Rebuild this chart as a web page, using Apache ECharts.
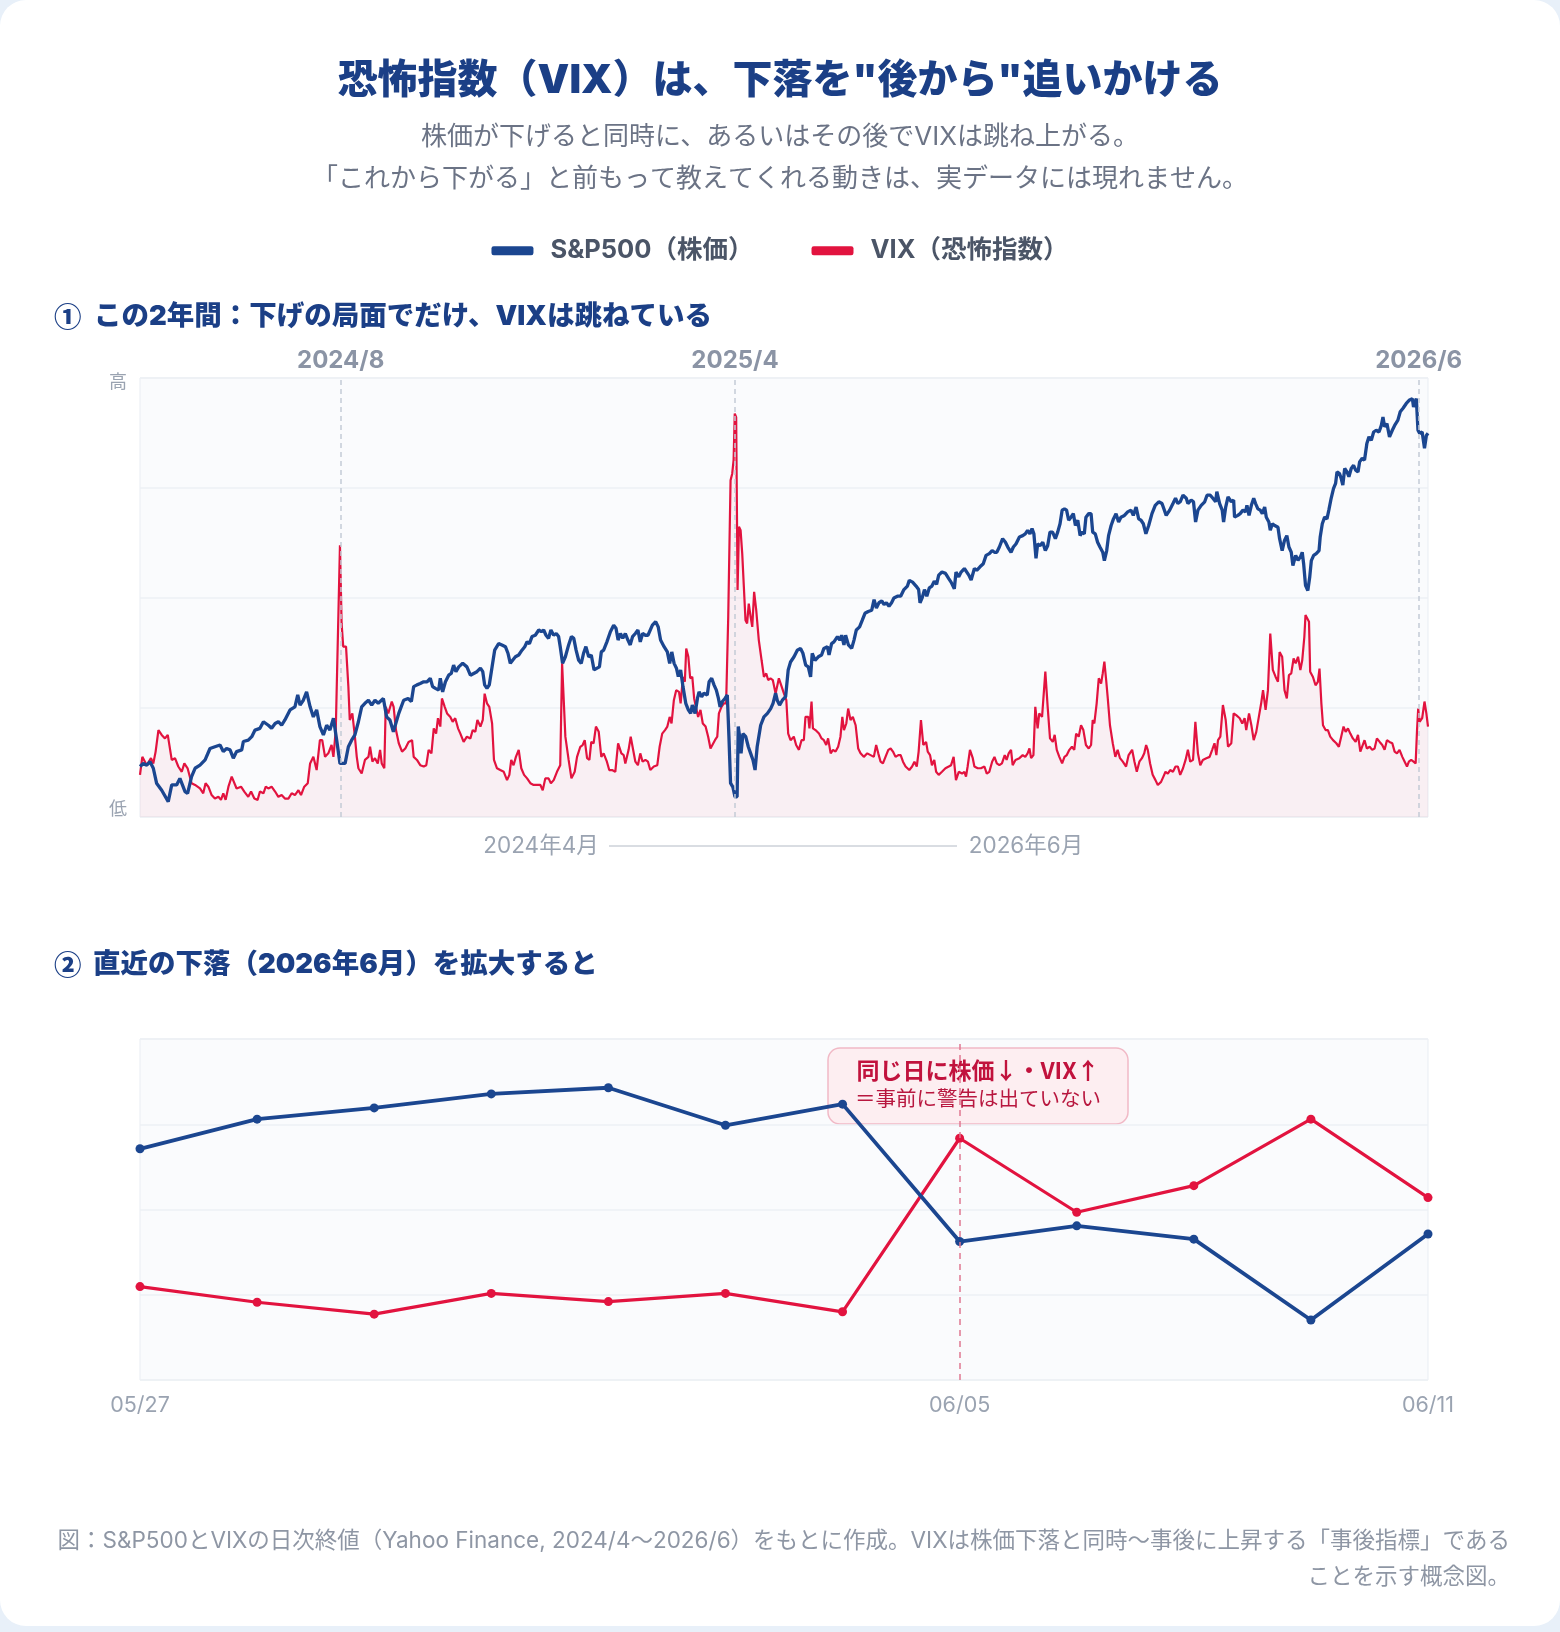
<!DOCTYPE html>
<html>
<head>
<meta charset="utf-8">
<script src="https://cdn.jsdelivr.net/npm/echarts@6/dist/echarts.min.js"></script>
<style>
  html, body { margin: 0; padding: 0; background: #e8f0f9; }
  #card { position: absolute; left: 0; top: 0; width: 1560px; height: 1626px; background: #fff; border-radius: 26px; }
  #main { position: absolute; left: 0; top: 0; width: 1560px; height: 1632px; }
</style>
</head>
<body>
<div id="card"></div>
<div id="main"></div>
<script>
const SPX = "S&P500（株価）";
const VIX = "VIX（恐怖指数）";
const BLUE = "#1b4690";
const RED = "#e2133f";
const FONT = 'Inter, "Noto Sans CJK JP", sans-serif';
const JP = '"Noto Sans CJK JP", sans-serif';

// ① 2年間の日次（x = 2024/4 からの営業日, y = 相対水準 0-100）
const spxPoints = [
  [0,11.5],[1.4,12.2],[2.9,11.8],[4.3,12.6],[5.7,11.1],[7.1,7.7],[9.3,6.1],[12.1,3.5],[13.6,7.3],[15.7,7.3],[17.1,8.8],[19.3,5.8],[20.4,5.4],[22.1,9.2],[23.6,11.1],[25.7,11.8],[27.9,13.0],[30.0,15.6],[32.1,16.0],[34.3,16.4],[35.7,14.9],[37.1,15.6],[38.6,15.3],[40.0,13.4],[41.4,14.9],[43.6,15.3],[44.3,17.2],[46.4,17.5],[47.9,18.3],[49.3,19.8],[51.4,20.2],[52.9,21.7],[55.0,20.9],[56.4,20.2],[57.9,21.3],[59.3,21.7],[60.7,20.9],[62.1,22.1],[64.3,24.4],[66.4,25.1],[67.6,27.8],[68.6,25.5],[70.0,26.6],[71.4,28.5],[72.9,25.1],[74.3,22.8],[75.7,24.4],[77.1,20.6],[78.6,18.7],[80.0,20.9],[81.4,19.8],[82.9,22.5],[84.3,17.5],[85.7,12.2],[86.4,12.6],[87.9,12.2],[89.3,16.0],[90.7,17.5],[92.1,18.7],[93.6,21.7],[95.0,25.1],[96.4,25.9],[97.9,26.6],[99.3,25.5],[100.7,26.6],[102.1,25.9],[104.3,27.0],[105.7,22.8],[107.1,22.1],[108.6,19.4],
  [110.9,23.6],[113.0,26.6],[114.9,27.0],[116.3,26.3],[117.3,29.7],[118.7,30.1],[120.1,30.4],[121.6,30.8],[123.0,30.8],[124.4,31.6],[125.4,29.7],[126.6,29.3],[128.0,28.9],[128.7,31.6],[129.7,28.5],[130.9,30.8],[132.3,32.3],[133.4,32.7],[134.4,34.6],[135.4,33.1],[136.6,34.2],[138.3,35.0],[140.1,34.2],[141.6,32.3],[143.0,32.7],[144.4,33.1],[145.9,33.9],[146.9,33.1],[147.7,30.1],[148.7,29.3],[149.7,30.1],[150.9,34.2],[152.0,38.0],[153.7,39.5],[155.1,39.2],[156.6,38.8],[157.7,37.3],[158.7,35.0],[159.7,35.7],[160.9,36.5],[162.3,36.9],[163.7,38.0],[164.9,38.8],[165.9,39.9],[166.9,39.5],[168.0,41.1],[169.4,41.4],[170.9,42.6],[172.0,42.2],[173.0,42.6],[174.0,41.4],[175.1,40.7],[176.1,42.6],[177.3,41.4],[178.4,41.8],[179.4,41.1],[180.1,38.8],[181.1,35.0],[182.3,36.5],[183.7,39.2],[184.9,41.1],[185.9,40.7],[186.9,38.0],[188.0,35.7],[189.1,35.0],[190.1,37.3],[191.1,38.8],[192.3,36.5],[193.4,36.9],[194.6,33.5],[195.9,33.9],[196.9,34.2],[197.7,37.6],[198.7,38.0],[200.1,39.9],[201.6,42.2],[203.0,43.7],[204.0,43.0],[204.9,40.3],[205.9,41.8],[206.9,40.7],[208.0,41.8],[209.1,40.3],[210.1,39.2],[211.1,41.1],[212.3,41.8],[213.4,42.6],[214.4,39.9],[215.4,41.8],[216.6,41.4],[217.7,41.4],
  [219.6,43.7],[221.0,44.5],[222.1,43.3],[223.1,40.3],[224.6,38.8],[226.0,37.6],[227.0,35.0],[227.9,37.6],[228.9,35.0],[229.9,33.9],[230.7,32.0],[231.7,33.5],[232.7,29.7],[233.9,25.9],[235.0,24.4],[236.0,23.6],[236.7,25.5],[237.9,23.6],[238.9,27.0],[239.6,28.5],[240.7,27.4],[241.7,28.2],[243.1,27.8],[243.9,30.8],[245.0,31.6],[246.0,30.1],[247.0,28.9],[247.9,27.0],[248.6,25.1],[249.6,26.3],[250.7,27.0],[251.7,27.8],[252.4,18.3],[253.1,7.7],[254.1,6.8],[255.0,4.6],[255.9,4.6],[256.4,20.6],[257.0,18.3],[257.6,14.5],[258.4,19.0],[259.6,18.3],[260.7,16.0],[261.7,14.5],[262.7,13.0],[263.6,10.7],[264.5,16.0],[266.0,20.9],[267.4,22.8],[268.9,23.6],[270.3,24.7],[271.3,25.9],[272.4,28.2],[273.1,26.6],[274.1,25.5],[275.3,26.6],[276.7,27.4],[277.8,33.5],[278.8,35.3],[280.3,36.5],[281.7,38.0],[283.1,38.4],[284.1,37.3],[285.3,34.6],[286.4,34.2],[287.4,31.9],[288.1,37.3],[289.3,35.7],[290.7,36.5],[292.1,36.9],[293.1,38.4],[294.6,38.8],[295.3,36.9],[296.4,39.5],[297.4,39.9],[298.9,41.1],[299.9,40.3],[300.7,41.4],[301.7,39.2],[302.4,41.4],[303.6,39.2],[305.0,38.4],[306.0,40.3],[307.0,42.6],[308.4,43.3],[309.6,44.9],[310.7,46.4],[312.1,46.8],[313.6,47.1],[314.6,49.5],[315.6,47.6],[316.7,48.8],[317.9,49.2],[318.9,48.4],[319.9,48.8],[321.0,48.0],[322.1,48.8],[323.1,49.9],[324.6,50.3],[326.0,50.3],[327.4,51.8],[328.9,52.6],
  [329.7,53.9],[331.1,53.5],[332.6,52.6],[333.7,51.8],[334.3,48.8],[335.2,49.9],[336.2,51.8],[337.2,50.3],[338.3,52.2],[339.4,52.6],[340.4,53.7],[341.4,53.0],[342.3,55.1],[343.7,55.8],[345.2,55.5],[346.6,54.3],[347.6,53.5],[349.0,52.0],[349.7,55.8],[350.9,54.7],[351.9,55.8],[353.3,56.6],[354.0,57.0],[355.2,55.1],[356.2,54.0],[357.6,56.6],[358.6,56.2],[360.0,57.0],[361.4,57.7],[362.6,59.6],[364.0,60.0],[365.2,60.7],[366.2,60.3],[367.2,60.3],[368.3,61.5],[369.7,63.4],[370.9,62.6],[371.9,61.5],[373.3,60.3],[374.3,61.5],[375.4,62.2],[376.9,63.8],[378.3,64.1],[379.4,64.5],[380.4,65.3],[381.4,64.5],[382.3,65.7],[383.1,64.5],[384.0,58.9],[384.7,62.2],[385.7,61.8],[386.9,62.6],[388.0,60.7],[389.0,61.8],[390.0,64.9],[391.1,64.9],[392.3,63.4],[393.3,64.9],[394.3,66.8],[395.2,69.9],[396.2,70.2],[397.1,69.9],[398.0,67.6],[399.0,68.3],[400.0,69.1],[400.9,66.4],[401.9,67.6],[402.9,64.1],[403.7,64.9],[404.7,64.5],[405.4,68.3],[406.6,69.1],[407.6,69.1],[408.3,64.9],[409.4,64.5],[410.4,62.6],[411.4,61.5],[412.6,60.3],[413.3,58.4],[414.3,60.7],[415.1,64.1],[416.2,66.4],[417.2,67.9],[418.3,69.1],[419.4,67.2],[420.4,68.3],[421.9,68.7],[423.3,69.5],[424.7,69.9],[425.7,68.7],[426.9,70.6],[428.0,67.9],[429.0,67.6],[430.0,66.8],[431.1,64.5],[432.3,66.4],[433.7,69.1],[435.1,71.0],[436.6,71.8],[438.0,71.4],
  [439.8,68.7],[441.3,69.9],[442.7,71.4],[443.8,72.6],[444.8,71.4],[445.8,71.8],[447.0,73.3],[448.4,72.6],[449.1,71.4],[450.5,72.2],[451.5,71.8],[452.4,67.2],[453.4,69.9],[454.8,71.0],[456.3,71.8],[457.3,73.3],[458.7,73.3],[459.8,72.6],[461.0,71.8],[461.5,74.1],[462.7,71.4],[463.8,69.9],[464.4,67.2],[465.3,70.6],[466.3,72.9],[467.7,71.8],[468.7,72.2],[469.1,68.3],[470.5,68.7],[471.5,69.1],[472.7,69.9],[473.8,69.5],[474.4,71.0],[475.3,68.7],[476.3,71.0],[477.3,72.6],[478.1,71.4],[479.1,70.2],[480.1,69.9],[481.0,69.1],[482.0,70.6],[482.7,68.3],[483.8,67.2],[484.4,65.3],[485.3,66.8],[486.3,66.4],[487.7,66.0],[488.4,63.4],[489.5,60.7],[490.5,63.0],[491.5,64.1],[492.4,61.5],[493.4,60.3],[494.1,57.3],[495.3,59.6],[496.3,58.5],[497.3,59.2],[498.1,60.3],[498.7,57.7],[499.5,52.8],[500.5,51.6],[501.3,54.6],[502.0,58.4],[503.0,59.6],[504.1,60.0],[505.3,60.7],[505.8,63.8],[506.7,66.8],[507.7,68.3],[508.7,67.9],[509.5,69.9],[510.5,72.6],[511.5,74.8],[512.4,76.0],[513.0,78.6],[514.1,78.2],[514.8,77.1],[515.5,75.6],[516.3,79.4],[517.3,78.6],[518.1,77.5],[519.1,79.4],[520.1,80.1],[521.0,79.0],[522.0,78.6],[522.7,80.9],[523.8,81.7],[524.8,81.3],[525.8,85.1],[526.7,86.6],[527.7,85.8],[528.7,87.7],[529.8,88.1],[531.0,87.7],[532.0,89.2],[532.7,91.1],[533.4,88.9],[534.4,89.6],[535.5,86.6],[536.7,88.1],[537.7,89.2],[539.1,90.4],[540.1,92.3],[541.3,93.1],[542.7,94.2],[544.1,95.0],[545.3,95.3],[545.8,93.4],[547.0,95.3],[547.7,88.1],[548.4,87.4],[549.5,87.7],[550.5,84.0],[551.3,86.9],[552.0,87.4]
];

const vixPoints = [
  [0,9.6],[1.0,13.7],[2.9,11.8],[4.7,13.4],[5.7,12.2],[6.7,14.9],[7.9,19.8],[9.3,18.7],[10.7,17.9],[11.9,18.7],[13.6,13.0],[15.0,13.4],[16.4,11.5],[17.9,10.3],[19.0,12.2],[20.4,11.1],[22.1,7.7],[23.6,7.3],[25.7,6.5],[27.1,5.4],[28.1,7.7],[29.3,6.9],[30.7,5.0],[32.1,4.2],[33.6,4.6],[34.7,3.9],[35.7,5.4],[36.7,3.9],[37.9,6.9],[39.3,9.2],[40.0,9.6],[41.4,6.5],[43.3,6.9],[44.7,5.8],[46.4,4.6],[47.6,5.8],[49.0,4.2],[50.4,3.9],[51.4,5.8],[52.9,5.4],[53.9,6.9],[55.0,6.5],[56.4,6.9],[57.9,5.8],[59.3,4.6],[60.7,5.0],[62.1,4.2],[63.6,4.2],[65.0,5.4],[66.4,5.0],[67.9,6.1],[69.0,5.0],[70.4,6.9],[71.9,7.7],[72.9,12.2],[74.3,13.7],[75.7,10.7],[77.1,17.5],[78.1,17.5],[79.3,13.7],[80.7,14.5],[82.1,16.4],[82.9,13.7],[83.9,19.8],[85.7,61.9],[86.4,44.1],[87.1,38.8],[88.3,38.8],[89.3,29.7],[89.9,22.1],[91.0,23.6],[92.1,18.3],[92.9,13.7],[93.6,11.1],[95.0,9.9],[96.4,13.0],[97.9,13.7],[98.6,16.0],[99.6,12.6],[100.7,13.4],[101.9,12.2],[102.9,15.3],[103.6,12.2],[104.7,11.1],[105.3,25.1],[106.4,23.6],[107.9,26.3],
  [108.7,25.1],[109.7,19.8],[110.9,16.8],[112.3,14.9],[113.7,15.6],[115.1,17.1],[116.6,17.5],[117.3,13.7],[118.7,13.0],[120.1,11.8],[121.6,11.5],[122.7,11.8],[123.7,15.3],[124.9,14.5],[125.9,20.2],[126.9,19.0],[127.7,22.5],[128.7,20.6],[129.4,27.0],[130.6,25.1],[131.6,23.6],[133.0,22.8],[134.0,21.7],[135.1,22.5],[136.3,20.2],[137.3,19.0],[138.7,17.1],[140.1,18.3],[141.6,17.9],[142.6,19.8],[143.7,19.4],[144.6,22.1],[145.9,20.6],[146.9,22.1],[147.7,28.1],[148.7,25.9],[149.7,25.1],[150.9,21.3],[151.7,13.0],[153.0,11.1],[154.4,10.7],[155.9,10.3],[157.3,8.4],[158.3,9.6],[159.1,13.0],[160.1,11.8],[161.1,13.7],[162.3,15.3],[163.4,11.1],[164.6,9.6],[165.9,8.8],[167.3,7.7],[168.7,7.3],[170.1,7.3],[171.6,7.3],[172.6,6.1],[173.7,8.8],[175.1,8.8],[176.1,7.7],[177.3,8.4],[178.7,10.3],[180.1,11.8],[180.9,35.0],[181.6,35.0],[182.3,18.3],[183.7,13.0],[184.9,8.8],[186.3,10.3],[187.3,13.7],[188.7,16.0],[189.7,16.4],[190.6,17.5],[191.6,13.4],[192.6,13.0],[193.4,17.1],[194.4,16.8],[195.4,20.6],[196.6,19.4],[197.7,13.7],[198.7,14.5],[200.1,12.6],[201.1,10.7],[202.3,10.7],[203.7,10.3],[204.9,16.8],[206.3,14.5],[207.3,14.1],[208.0,12.2],[209.4,15.3],[210.3,18.3],[211.1,16.0],[212.3,12.6],[213.4,11.8],[214.4,14.5],[215.4,12.6],[216.6,13.0],[217.7,12.6],[218.7,10.7],
  [219.2,10.3],[220.2,11.5],[221.7,11.8],[222.7,16.0],[223.8,19.0],[225.0,19.8],[226.0,20.6],[227.0,22.8],[227.8,21.3],[228.8,26.6],[229.8,28.9],[231.0,28.5],[231.7,25.9],[232.7,31.9],[233.5,30.8],[234.1,38.4],[235.0,36.5],[235.8,31.6],[236.7,31.9],[237.5,27.0],[238.4,24.7],[239.2,22.8],[240.2,24.4],[241.2,21.3],[242.4,20.6],[243.5,18.3],[244.5,15.6],[245.2,15.3],[246.4,17.5],[247.4,18.3],[248.1,23.6],[249.2,25.1],[250.2,25.9],[251.2,25.9],[252.1,45.6],[253.1,76.7],[253.8,78.2],[254.4,81.3],[254.9,91.9],[255.5,91.1],[256.1,51.7],[256.7,66.1],[257.4,65.3],[258.1,60.0],[258.8,52.4],[259.5,44.8],[260.2,44.1],[260.9,48.6],[261.7,45.6],[262.4,43.3],[263.2,51.3],[264.1,47.1],[265.2,40.3],[266.4,35.7],[267.4,31.9],[268.4,32.7],[269.2,31.2],[270.2,31.6],[271.2,31.2],[272.4,28.1],[273.8,31.6],[275.0,29.7],[276.0,28.1],[277.0,26.6],[277.8,19.0],[278.8,17.5],[280.2,18.3],[281.2,16.4],[282.4,15.3],[283.5,17.5],[284.5,17.5],[285.2,22.8],[286.4,22.8],[286.9,20.2],[287.8,26.3],[288.4,20.2],[289.5,19.8],[291.0,19.0],[292.1,17.9],[293.1,17.5],[294.1,16.4],[294.9,17.9],[296.0,14.5],[297.0,15.3],[298.1,14.9],[299.2,16.0],[300.2,18.3],[301.0,22.8],[301.7,19.8],[302.7,21.3],[303.5,24.7],[304.5,22.1],[305.5,22.8],[306.7,20.9],[307.8,15.6],[308.8,14.5],[310.2,13.7],[311.7,14.5],[313.1,14.1],[314.5,13.7],[315.5,16.4],[316.4,14.5],[317.4,12.6],[318.4,12.2],[319.5,13.7],[320.7,15.3],[321.7,15.6],[322.7,14.9],[323.8,13.7],[325.0,14.1],[326.0,14.1],[327.0,12.6],[328.1,11.5],
  [329.7,10.7],[330.9,11.5],[331.9,12.6],[332.9,11.5],[333.7,14.9],[334.7,22.1],[335.7,16.4],[336.9,17.1],[337.6,14.9],[338.6,14.1],[339.4,11.8],[340.4,13.0],[341.2,10.3],[342.3,9.6],[343.7,10.3],[345.2,11.1],[346.6,11.5],[347.6,11.8],[348.7,13.7],[349.7,8.4],[350.9,10.3],[352.3,9.9],[353.3,10.3],[354.0,9.2],[354.7,11.5],[355.7,15.3],[356.9,13.4],[357.6,11.5],[359.0,11.1],[360.4,11.1],[361.9,11.5],[362.9,9.9],[364.0,10.3],[365.2,12.6],[366.2,13.7],[367.2,12.2],[368.3,11.8],[369.4,12.2],[370.6,14.1],[371.4,13.0],[372.3,14.5],[373.3,15.3],[374.0,11.8],[375.2,13.0],[376.9,13.4],[378.3,14.1],[379.4,13.7],[380.4,14.5],[381.2,15.6],[381.9,13.4],[382.9,14.1],[383.7,25.1],[384.7,20.2],[385.4,23.6],[386.6,22.8],[387.2,23.2],[388.0,33.1],[389.0,25.1],[390.0,17.9],[391.2,17.1],[392.0,18.7],[392.9,15.3],[394.0,13.7],[395.2,12.2],[396.2,13.7],[397.2,14.1],[398.3,15.3],[399.4,16.0],[400.4,15.3],[401.2,19.0],[402.3,18.3],[403.3,20.9],[404.3,19.8],[405.4,16.4],[406.6,15.6],[407.6,16.4],[408.3,22.1],[409.0,21.3],[410.0,25.9],[410.9,31.6],[411.9,30.4],[412.6,32.7],[413.3,35.4],[414.0,31.6],[414.7,27.4],[415.7,20.9],[416.9,16.8],[418.0,13.7],[419.0,15.3],[420.0,13.4],[421.2,12.6],[422.6,11.5],[423.7,14.1],[425.2,15.3],[426.2,12.6],[427.2,10.3],[428.3,12.6],[429.4,13.4],[430.4,14.5],[431.2,16.4],[431.9,15.3],[432.9,12.2],[434.0,9.6],[435.2,8.4],[436.2,7.3],[437.6,8.0],[438.6,9.2],
  [439.5,10.3],[440.5,9.9],[441.5,10.7],[442.7,10.3],[443.8,11.5],[444.8,11.5],[445.8,9.6],[447.0,11.1],[448.1,13.0],[449.1,15.3],[450.1,12.6],[451.3,13.0],[452.3,21.7],[453.4,14.5],[454.4,11.8],[455.5,13.0],[457.0,13.4],[458.4,13.7],[459.5,15.3],[460.5,16.8],[461.3,14.1],[462.0,17.5],[463.0,18.3],[464.1,25.5],[465.3,22.1],[466.3,16.0],[467.7,16.8],[468.7,23.6],[469.8,23.2],[471.3,22.5],[472.4,21.3],[473.4,22.5],[474.1,19.8],[475.3,23.6],[476.3,20.9],[477.3,17.5],[478.4,19.4],[479.5,22.8],[480.5,25.9],[481.3,28.9],[482.4,24.4],[483.4,28.9],[484.4,41.8],[485.5,33.5],[486.7,31.9],[487.7,30.8],[488.4,37.6],[489.5,36.5],[490.5,28.9],[491.5,27.0],[492.4,32.3],[493.4,32.7],[494.4,36.1],[495.3,35.0],[496.3,36.5],[497.3,33.5],[498.1,35.7],[499.0,41.0],[499.5,46.0],[500.1,45.6],[501.0,44.5],[501.5,33.1],[502.7,31.9],[503.8,30.0],[504.8,30.8],[505.5,33.8],[506.3,25.9],[507.0,20.9],[508.1,19.8],[509.1,19.8],[510.1,18.3],[511.3,17.5],[512.7,16.8],[513.8,16.0],[514.8,18.3],[515.8,20.6],[516.7,19.4],[517.7,20.2],[518.7,19.0],[519.8,17.9],[521.0,17.1],[522.0,18.7],[523.0,14.9],[523.8,15.3],[524.8,17.5],[525.8,15.6],[527.0,16.0],[528.1,15.3],[529.1,15.6],[530.1,17.9],[531.3,17.1],[532.4,16.4],[533.4,15.3],[534.4,17.5],[535.5,17.1],[536.7,16.8],[537.7,14.9],[538.7,14.5],[539.8,15.3],[541.0,13.7],[542.0,12.6],[543.0,11.5],[543.8,12.6],[544.8,13.0],[545.8,12.6],[546.7,12.2],[547.3,19.8],[547.8,24.7],[548.4,21.7],[549.5,22.5],[550.5,26.3],[551.3,23.6],[552.0,20.6]
];

const markerDays = [86, 255, 548];
const markerLabels = ["2024/8", "2025/4", "2026/6"];

// ② 直近（2026/5/27〜6/11）
const recentDates = ["05/27","05/28","05/29","06/01","06/02","06/03","06/04","06/05","06/08","06/09","06/10","06/11"];
const recentSpx = [67.8, 76.5, 79.8, 83.9, 85.7, 74.7, 80.9, 40.6, 45.2, 41.3, 17.6, 42.8];
const recentVix = [27.4, 22.8, 19.3, 25.4, 23.0, 25.4, 20.0, 70.9, 49.2, 57.0, 76.5, 53.5];
const shownDates = ["05/27", "06/05", "06/11"];

const chart = echarts.init(document.getElementById("main"));

function txt(x, y, text, font, fill, align) {
  return {
    type: "text", x: x, y: y, silent: true,
    style: { text: text, font: font, fill: fill, align: align || "center", verticalAlign: "middle" }
  };
}

const plotBox = { show: true, backgroundColor: "#fafbfd", borderColor: "#e9edf3", borderWidth: 1 };

chart.setOption({
  animation: false,
  textStyle: { fontFamily: FONT },
  legend: {
    data: [SPX, VIX],
    top: 233,
    left: "center",
    icon: "roundRect",
    itemWidth: 42,
    itemHeight: 9,
    itemGap: 58,
    selectedMode: false,
    textStyle: { fontSize: 25.5, fontWeight: "bold", color: "#4b5567", padding: [0, 0, 0, 12], fontFamily: FONT }
  },
  grid: [
    Object.assign({ left: 140, top: 378, width: 1288, height: 439 }, plotBox),
    Object.assign({ left: 140, top: 1039, width: 1288, height: 341 }, plotBox)
  ],
  xAxis: [
    { type: "value", gridIndex: 0, min: 0, max: 552, show: false },
    {
      type: "category", gridIndex: 1, data: recentDates, boundaryGap: false,
      axisLine: { show: false }, axisTick: { show: false },
      axisLabel: {
        interval: function (i, v) { return shownDates.indexOf(v) >= 0; },
        color: "#9aa3b1", fontSize: 21.5, margin: 15, fontFamily: FONT
      }
    }
  ],
  yAxis: [
    { type: "value", gridIndex: 0, min: 0, max: 100, interval: 25,
      axisLabel: { show: false }, axisLine: { show: false }, axisTick: { show: false },
      splitLine: { lineStyle: { color: "#edf0f5", width: 1.5 } } },
    { type: "value", gridIndex: 1, min: 0, max: 100, interval: 25,
      axisLabel: { show: false }, axisLine: { show: false }, axisTick: { show: false },
      splitLine: { lineStyle: { color: "#edf0f5", width: 1.5 } } }
  ],
  series: [
    {
      name: VIX, type: "line", xAxisIndex: 0, yAxisIndex: 0, data: vixPoints,
      showSymbol: false, color: RED,
      lineStyle: { width: 2.2, color: RED },
      areaStyle: { color: "rgba(226,19,63,0.075)" },
      z: 2,
      markLine: {
        silent: true, symbol: ["none", "none"],
        lineStyle: { type: [5, 4], color: "#c4cbd6", width: 1.5 },
        label: { position: "end", distance: 5, color: "#8b94a5", fontSize: 24, fontWeight: "bold", fontFamily: FONT,
                 formatter: function (p) { return markerLabels[p.dataIndex]; } },
        data: markerDays.map(function (d) { return { xAxis: d }; })
      }
    },
    {
      name: SPX, type: "line", xAxisIndex: 0, yAxisIndex: 0, data: spxPoints,
      showSymbol: false, color: BLUE,
      lineStyle: { width: 3.3, color: BLUE },
      z: 3
    },
    {
      name: VIX, type: "line", xAxisIndex: 1, yAxisIndex: 1, data: recentVix,
      color: RED, symbol: "circle", symbolSize: 9,
      lineStyle: { width: 3.2, color: RED }, itemStyle: { color: RED },
      z: 2,
      markLine: {
        silent: true, symbol: ["none", "none"],
        lineStyle: { type: [6, 5], color: "#e07891", width: 1.5 },
        label: { show: false },
        data: [{ xAxis: "06/05" }]
      }
    },
    {
      name: SPX, type: "line", xAxisIndex: 1, yAxisIndex: 1, data: recentSpx,
      color: BLUE, symbol: "circle", symbolSize: 9,
      lineStyle: { width: 3.8, color: BLUE }, itemStyle: { color: BLUE },
      z: 3
    }
  ],
  graphic: [
    txt(780, 81, "恐怖指数（VIX）は、下落を\"後から\"追いかける", "900 40px " + FONT, "#1b3f86"),
    txt(780, 137, "株価が下げると同時に、あるいはその後でVIXは跳ね上がる。", "26px " + FONT, "#6b7385"),
    txt(780, 179, "「これから下がる」と前もって教えてくれる動きは、実データには現れません。", "26px " + FONT, "#6b7385"),
    txt(54, 317, "①", "900 27.5px " + JP, "#1b3f86", "left"),
    txt(94, 317, "この2年間：下げの局面でだけ、VIXは跳ねている", "900 27.5px " + FONT, "#1b3f86", "left"),
    txt(118, 383, "高", "18px " + FONT, "#9aa3b1"),
    txt(118, 810, "低", "18px " + FONT, "#9aa3b1"),
    txt(541, 846, "2024年4月", "22.5px " + FONT, "#9aa3b1"),
    { type: "line", silent: true, shape: { x1: 609, y1: 846, x2: 957, y2: 846 }, style: { stroke: "#b3bac5", lineWidth: 1 } },
    txt(1026, 846, "2026年6月", "22.5px " + FONT, "#9aa3b1"),
    txt(54, 965, "②", "900 27.5px " + JP, "#1b3f86", "left"),
    txt(93, 965, "直近の下落（2026年6月）を拡大すると", "900 27.5px " + FONT, "#1b3f86", "left"),
    {
      type: "group", x: 828, y: 1048, silent: true, z: 100,
      children: [
        { type: "rect", shape: { x: 0, y: 0, width: 300, height: 76, r: 12 },
          style: { fill: "#fdeef1", stroke: "#f1b9c6", lineWidth: 1.5 } },
        txt(150, 22, "同じ日に株価↓・VIX↑", "bold 23px " + JP, "#c1123d"),
        txt(150, 52, "＝事前に警告は出ていない", "20.5px " + FONT, "#b8173f")
      ]
    },
    txt(1510, 1541, "図：S&P500とVIXの日次終値（Yahoo Finance, 2024/4〜2026/6）をもとに作成。VIXは株価下落と同時〜事後に上昇する「事後指標」である", "22.5px " + FONT, "#8e96a4", "right"),
    txt(1510, 1577, "ことを示す概念図。", "22.5px " + FONT, "#8e96a4", "right")
  ]
});
</script>
</body>
</html>
